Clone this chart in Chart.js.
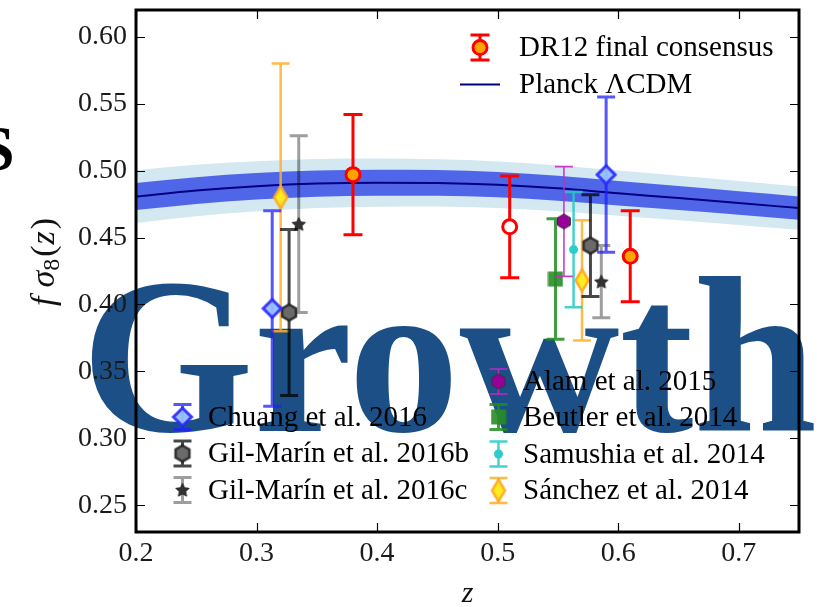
<!DOCTYPE html>
<html><head><meta charset="utf-8">
<script src="https://cdn.jsdelivr.net/npm/chart.js@4.4.0/dist/chart.umd.min.js"></script>
<style>html,body{margin:0;padding:0;background:#fff;}#wrap{width:826px;height:607px;}</style>
</head><body><div id="wrap"><canvas id="c" width="826" height="607"></canvas></div>
<script>
// ---------- data ----------
const xTicks = [0.2, 0.3, 0.4, 0.5, 0.6, 0.7];
const xTickLabels = ['0.2', '0.3', '0.4', '0.5', '0.6', '0.7'];
const yTicks = [0.25, 0.30, 0.35, 0.40, 0.45, 0.50, 0.55, 0.60];
const yTickLabels = ['0.25', '0.30', '0.35', '0.40', '0.45', '0.50', '0.55', '0.60'];

const planckZ    = [0.20, 0.25, 0.30, 0.35, 0.40, 0.45, 0.50, 0.55, 0.60, 0.65, 0.70, 0.75];
const planckF    = [0.4806, 0.4851, 0.4883, 0.4903, 0.4910, 0.4908, 0.4895, 0.4868, 0.4831, 0.4795, 0.4758, 0.4720];
const planckSig1 = [0.0101, 0.0100, 0.0099, 0.0098, 0.0097, 0.0096, 0.0094, 0.0093, 0.0091, 0.0090, 0.0088, 0.0087];
const planckSig2 = [0.0197, 0.0192, 0.0187, 0.0183, 0.0180, 0.0177, 0.0174, 0.0171, 0.0169, 0.0166, 0.0164, 0.0162];

const dr12Z = [0.38, 0.51, 0.61];
const dr12F = [0.497, 0.458, 0.436];
const dr12E = [0.045, 0.038, 0.034];

const chuangZ = [0.313, 0.590];
const chuangF = [0.397, 0.497];
const chuangE = [0.073, 0.058];

const gilMarinBZ = [0.327, 0.577];
const gilMarinBF = [0.394, 0.444];
const gilMarinBE = [0.062, 0.038];

const gilMarinCZ = [0.335, 0.586];
const gilMarinCF = [0.460, 0.417];
const gilMarinCE = [0.066, 0.027];

const sanchezZ = [0.320, 0.570];
const sanchezF = [0.480, 0.418];
const sanchezE = [0.100, 0.045];

const alamZ = [0.555];
const alamF = [0.462];
const alamE = [0.041];

const beutlerZ = [0.548];
const beutlerF = [0.419];
const beutlerE = [0.045];

const samushiaZ = [0.563];
const samushiaF = [0.441];
const samushiaE = [0.043];

// ---------- marker images ----------
function mk(w, h, fn) { const c = document.createElement('canvas'); c.width = w; c.height = h; fn(c.getContext('2d'), w / 2, h / 2); return c; }
function hexPath(g, cx, cy, r) { g.beginPath(); for (let k = 0; k < 6; k++) { const a = -Math.PI / 2 + k * Math.PI / 3; const px = cx + r * Math.cos(a), py = cy + r * Math.sin(a); k ? g.lineTo(px, py) : g.moveTo(px, py); } g.closePath(); }
function starPath(g, cx, cy, R, r) { g.beginPath(); for (let k = 0; k < 10; k++) { const a = -Math.PI / 2 + k * Math.PI / 5; const rr = k % 2 ? r : R; const px = cx + rr * Math.cos(a), py = cy + rr * Math.sin(a); k ? g.lineTo(px, py) : g.moveTo(px, py); } g.closePath(); }

const chuangMk = mk(26, 26, (g, cx, cy) => { g.beginPath(); g.moveTo(cx, cy - 9); g.lineTo(cx + 9, cy); g.lineTo(cx, cy + 9); g.lineTo(cx - 9, cy); g.closePath(); g.fillStyle = 'rgba(150,190,255,0.95)'; g.fill(); g.lineWidth = 3; g.strokeStyle = 'rgba(40,40,255,0.9)'; g.stroke(); });
const sanchezMk = mk(22, 30, (g, cx, cy) => { g.beginPath(); g.moveTo(cx, cy - 11); g.lineTo(cx + 6.5, cy); g.lineTo(cx, cy + 11); g.lineTo(cx - 6.5, cy); g.closePath(); g.fillStyle = '#ffec20'; g.fill(); g.lineWidth = 2.5; g.strokeStyle = 'rgba(255,170,40,0.95)'; g.stroke(); });
const gmbMk = mk(22, 22, (g, cx, cy) => { hexPath(g, cx, cy, 8); g.fillStyle = '#6a6a6a'; g.fill(); g.lineWidth = 2.5; g.strokeStyle = 'rgba(35,35,35,0.9)'; g.stroke(); });
const gmcMk = mk(18, 18, (g, cx, cy) => { starPath(g, cx, cy + 0.5, 7, 3.3); g.fillStyle = '#333'; g.fill(); g.lineWidth = 1; g.strokeStyle = '#222'; g.stroke(); });
const alamMk = mk(20, 20, (g, cx, cy) => { hexPath(g, cx, cy, 7.5); g.fillStyle = '#990099'; g.fill(); g.lineWidth = 1; g.strokeStyle = '#333'; g.stroke(); });
const beutlerMk = mk(16, 16, (g) => { g.fillStyle = 'rgba(40,140,40,0.9)'; g.fillRect(0.5, 0.5, 15, 15); });

function pts(zs, fs) { return zs.map((z, i) => ({ x: z, y: fs[i] })); }

const series = [
  { label: 'DR12 final consensus', z: dr12Z, f: dr12F, e: dr12E, color: '#ff0000', lw: 3, cap: 9.5, style: 'circle', radius: 7, bg: ['#ffa500', '#ffffff', '#ffa500'], border: '#ff0000', bw: 3, order: 0 },
  { label: 'Chuang et al. 2016', z: chuangZ, f: chuangF, e: chuangE, color: 'rgba(30,30,255,0.75)', lw: 3, cap: 9, style: chuangMk, order: 1 },
  { label: 'Gil-Marín et al. 2016b', z: gilMarinBZ, f: gilMarinBF, e: gilMarinBE, color: 'rgba(0,0,0,0.72)', lw: 3, cap: 9, style: gmbMk, order: 2 },
  { label: 'Gil-Marín et al. 2016c', z: gilMarinCZ, f: gilMarinCF, e: gilMarinCE, color: 'rgba(0,0,0,0.38)', lw: 3, cap: 9, style: gmcMk, order: 3 },
  { label: 'Alam et al. 2015', z: alamZ, f: alamF, e: alamE, color: 'rgba(200,40,200,0.9)', lw: 1.6, cap: 9, style: alamMk, order: 4 },
  { label: 'Beutler et al. 2014', z: beutlerZ, f: beutlerF, e: beutlerE, color: 'rgba(30,140,30,0.85)', lw: 3, cap: 9, style: beutlerMk, order: 5 },
  { label: 'Samushia et al. 2014', z: samushiaZ, f: samushiaF, e: samushiaE, color: 'rgba(40,200,200,0.85)', lw: 2.5, cap: 9, style: 'circle', radius: 4.5, bg: '#2ccccc', border: '#2ccccc', bw: 0, order: 6 },
  { label: 'Sánchez et al. 2014', z: sanchezZ, f: sanchezF, e: sanchezE, color: 'rgba(255,175,40,0.85)', lw: 2.5, cap: 9, style: sanchezMk, order: 7 }
];

const datasets = [
  { type: 'line', data: pts(planckZ, planckF.map((v, i) => v + planckSig2[i])), borderWidth: 0, pointRadius: 0, fill: '+1', backgroundColor: 'rgb(211,232,241)', cubicInterpolationMode: 'monotone', order: 20 },
  { type: 'line', data: pts(planckZ, planckF.map((v, i) => v - planckSig2[i])), borderWidth: 0, pointRadius: 0, fill: false, cubicInterpolationMode: 'monotone', order: 19 },
  { type: 'line', data: pts(planckZ, planckF.map((v, i) => v + planckSig1[i])), borderWidth: 0, pointRadius: 0, fill: '+1', backgroundColor: 'rgb(80,102,232)', cubicInterpolationMode: 'monotone', order: 18 },
  { type: 'line', data: pts(planckZ, planckF.map((v, i) => v - planckSig1[i])), borderWidth: 0, pointRadius: 0, fill: false, cubicInterpolationMode: 'monotone', order: 17 },
  { type: 'line', label: 'Planck ΛCDM', data: pts(planckZ, planckF), borderColor: '#000080', borderWidth: 2, pointRadius: 0, fill: false, cubicInterpolationMode: 'monotone', order: 16 }
];
series.forEach(s => {
  datasets.push({
    type: 'scatter', label: s.label, data: pts(s.z, s.f), errorBars: s.e, errColor: s.color, errWidth: s.lw, errCap: s.cap,
    pointStyle: s.style, pointRadius: s.radius || 10, pointBackgroundColor: s.bg || 'transparent',
    pointBorderColor: s.border || 'transparent', pointBorderWidth: s.bw || 0, order: s.order
  });
});

const SERIF = '"Liberation Serif", "Times New Roman", serif';
const TICK_FONT = { family: SERIF, size: 28 };
const LEGEND_FONT = '29px ' + SERIF;

function drawErr(ctx, x, yT, yB, color, lw, cap) {
  ctx.save(); ctx.strokeStyle = color; ctx.lineWidth = lw; ctx.lineCap = 'butt';
  ctx.beginPath(); ctx.moveTo(x, yT); ctx.lineTo(x, yB);
  ctx.moveTo(x - cap, yT); ctx.lineTo(x + cap, yT);
  ctx.moveTo(x - cap, yB); ctx.lineTo(x + cap, yB); ctx.stroke(); ctx.restore();
}
function drawMarker(ctx, s, x, y, idx) {
  if (typeof s.style === 'string') {
    ctx.save(); ctx.beginPath(); ctx.arc(x, y, s.radius, 0, Math.PI * 2);
    ctx.fillStyle = Array.isArray(s.bg) ? s.bg[idx || 0] : s.bg; ctx.fill();
    if (s.bw) { ctx.lineWidth = s.bw; ctx.strokeStyle = s.border; ctx.stroke(); }
    ctx.restore();
  } else {
    ctx.drawImage(s.style, x - s.style.width / 2, y - s.style.height / 2);
  }
}

const customPlugin = {
  id: 'custom',
  beforeDraw(chart) {
    const ctx = chart.ctx;
    ctx.save();
    ctx.fillStyle = '#fff'; ctx.fillRect(0, 0, chart.width, chart.height);
    ctx.fillStyle = '#1b4f86';
    ctx.font = 'bold 222px ' + SERIF; ctx.textBaseline = 'alphabetic'; ctx.textAlign = 'left';
    ctx.fillText('Growth', 81, 431);
    ctx.fillStyle = '#000';
    ctx.font = 'bold 64px ' + SERIF;
    ctx.fillText('S', -21, 170);
    ctx.restore();
  },
  beforeDatasetDraw(chart, args) {
    const ds = chart.data.datasets[args.index];
    if (!ds.errorBars) return;
    const xs = chart.scales.x, ys = chart.scales.y, ctx = chart.ctx;
    ds.data.forEach((p, i) => {
      const e = ds.errorBars[i];
      drawErr(ctx, xs.getPixelForValue(p.x), ys.getPixelForValue(p.y + e), ys.getPixelForValue(p.y - e), ds.errColor, ds.errWidth, ds.errCap);
    });
  },
  afterDatasetsDraw(chart) {
    const ctx = chart.ctx, a = chart.chartArea, xs = chart.scales.x, ys = chart.scales.y;
    ctx.save();
    ctx.strokeStyle = '#000'; ctx.lineWidth = 1.2;
    ctx.beginPath();
    xTicks.forEach(v => { const px = Math.round(xs.getPixelForValue(v)) + 0.5; ctx.moveTo(px, a.bottom); ctx.lineTo(px, a.bottom - 9); ctx.moveTo(px, a.top); ctx.lineTo(px, a.top + 9); });
    yTicks.forEach(v => { const py = Math.round(ys.getPixelForValue(v)) + 0.5; ctx.moveTo(a.left, py); ctx.lineTo(a.left + 9, py); ctx.moveTo(a.right, py); ctx.lineTo(a.right - 9, py); });
    ctx.stroke();
    ctx.lineWidth = 3; ctx.strokeStyle = '#000';
    ctx.strokeRect(a.left, a.top, a.right - a.left, a.bottom - a.top);
    ctx.restore();
  },
  afterDraw(chart) {
    const ctx = chart.ctx;
    ctx.save();
    // legend 1
    ctx.font = LEGEND_FONT; ctx.fillStyle = '#000'; ctx.textBaseline = 'middle'; ctx.textAlign = 'left';
    const s0 = series[0];
    drawErr(ctx, 480, 35, 60, s0.color, s0.lw, s0.cap);
    drawMarker(ctx, s0, 480, 47.5, 0);
    ctx.fillText(s0.label, 519, 48);
    ctx.strokeStyle = '#000080'; ctx.lineWidth = 2; ctx.beginPath(); ctx.moveTo(460, 84.5); ctx.lineTo(500, 84.5); ctx.stroke();
    ctx.fillText('Planck ΛCDM', 519, 85);
    // legend 2
    const left = [[1, 417], [2, 453.5], [3, 490]];
    const right = [[4, 381.5], [5, 417], [6, 454], [7, 490.5]];
    left.forEach(([k, y]) => { const s = series[k]; drawErr(ctx, 182.5, y - 12.5, y + 12.5, s.color, s.lw, s.cap); drawMarker(ctx, s, 182.5, y, 0); ctx.fillText(s.label, 208, y + 1); });
    right.forEach(([k, y]) => { const s = series[k]; drawErr(ctx, 498.5, y - 12.5, y + 12.5, s.color, s.lw, s.cap); drawMarker(ctx, s, 498.5, y, 0); ctx.fillText(s.label, 523, y + 1); });
    // axis titles
    ctx.fillStyle = '#111';
    ctx.font = 'italic 30px ' + SERIF; ctx.textAlign = 'center'; ctx.textBaseline = 'middle';
    ctx.fillText('z', (chart.chartArea.left + chart.chartArea.right) / 2, 594);
    // y title: f σ8(z)
    const parts = [
      { t: 'f', f: 'italic 34px ' + SERIF, dy: 0, gap: 9 },
      { t: 'σ', f: 'italic 34px ' + SERIF, dy: 0, gap: 0 },
      { t: '8', f: '24px ' + SERIF, dy: 8, gap: 2 },
      { t: '(', f: '34px ' + SERIF, dy: 0, gap: 1 },
      { t: 'z', f: 'italic 34px ' + SERIF, dy: 0, gap: 2 },
      { t: ')', f: '34px ' + SERIF, dy: 0, gap: 0 }
    ];
    let total = 0;
    parts.forEach(p => { ctx.font = p.f; p.w = ctx.measureText(p.t).width; total += p.w + p.gap; });
    ctx.translate(45, 262);
    ctx.rotate(-Math.PI / 2);
    ctx.textAlign = 'left'; ctx.textBaseline = 'middle';
    let cx = -total / 2;
    parts.forEach(p => { ctx.font = p.f; ctx.fillText(p.t, cx, p.dy); cx += p.w + p.gap; });
    ctx.restore();
  }
};

new Chart(document.getElementById('c'), {
  type: 'scatter',
  data: { datasets },
  options: {
    responsive: false, animation: false, devicePixelRatio: 1, events: [],
    layout: { padding: { top: 10, right: 27, left: 0, bottom: 0 } },
    plugins: { legend: { display: false }, tooltip: { enabled: false }, title: { display: false } },
    scales: {
      x: {
        type: 'linear', min: 0.2, max: 0.75,
        afterBuildTicks: s => { s.ticks = xTicks.map(v => ({ value: v })); },
        afterFit: s => { s.height = 75; s.paddingLeft = 0; s.paddingRight = 0; },
        ticks: { callback: (v, i) => xTickLabels[i], font: TICK_FONT, color: '#1a1a1a', padding: 5, maxRotation: 0, autoSkip: false },
        grid: { display: false, drawTicks: false }, border: { display: false }
      },
      y: {
        type: 'linear', min: 0.23, max: 0.62,
        afterBuildTicks: s => { s.ticks = yTicks.map(v => ({ value: v })); },
        afterFit: s => { s.width = 136; s.paddingTop = 0; s.paddingBottom = 0; },
        ticks: { callback: (v, i) => yTickLabels[i], font: TICK_FONT, color: '#1a1a1a', padding: 9, autoSkip: false },
        grid: { display: false, drawTicks: false }, border: { display: false }
      }
    }
  },
  plugins: [customPlugin]
});
</script>
</body></html>
